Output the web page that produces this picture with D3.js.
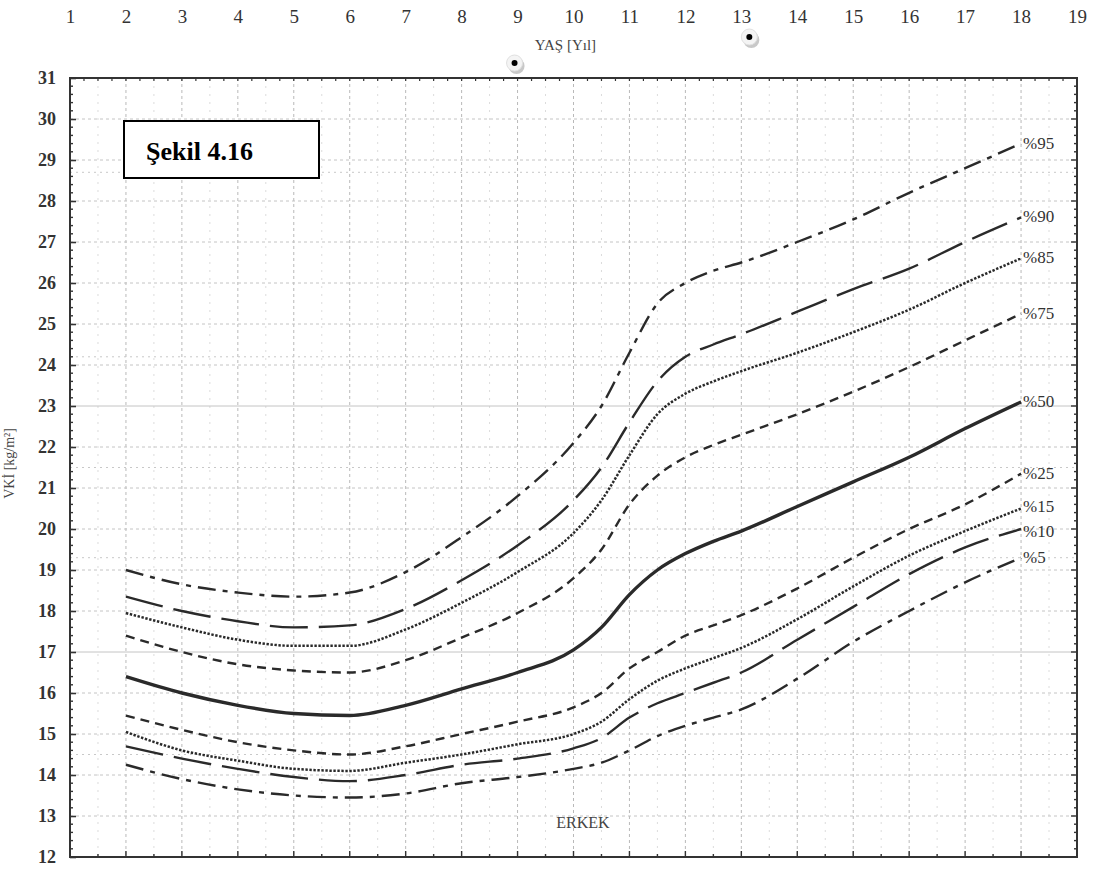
<!DOCTYPE html>
<html>
<head>
<meta charset="utf-8">
<script src="https://cdn.jsdelivr.net/npm/d3@7"></script>
<style>
  html, body { margin: 0; padding: 0; background: #fff; }
  svg { display: block; }
  text { font-family: "Liberation Serif", "DejaVu Serif", serif; }
</style>
</head>
<body>
<svg id="chart" width="1096" height="872"></svg>
<script>
// Ages (years) at which the percentile curves are tabulated
const ages = [2, 3, 4, 5, 6, 7, 8, 9, 10, 10.5, 11, 11.5, 12, 12.5, 13, 14, 15, 16, 17, 18];

// BMI percentile curves (kg/m²), boys
const p95 = [19.0, 18.65, 18.45, 18.35, 18.45, 18.95, 19.8, 20.8, 22.1, 23.0, 24.3, 25.5, 26.0, 26.3, 26.5, 27.0, 27.55, 28.2, 28.8, 29.4];
const p90 = [18.35, 18.0, 17.75, 17.6, 17.65, 18.05, 18.75, 19.6, 20.7, 21.5, 22.6, 23.6, 24.2, 24.5, 24.75, 25.3, 25.85, 26.35, 27.0, 27.6];
const p85 = [17.95, 17.6, 17.3, 17.15, 17.15, 17.55, 18.2, 18.95, 19.9, 20.7, 21.8, 22.8, 23.3, 23.6, 23.85, 24.3, 24.8, 25.35, 26.0, 26.6];
const p75 = [17.4, 17.0, 16.7, 16.55, 16.5, 16.8, 17.35, 17.95, 18.8, 19.5, 20.6, 21.3, 21.75, 22.05, 22.3, 22.8, 23.35, 23.95, 24.6, 25.25];
const p50 = [16.4, 16.0, 15.7, 15.5, 15.45, 15.7, 16.1, 16.5, 17.05, 17.6, 18.4, 19.0, 19.4, 19.7, 19.95, 20.55, 21.15, 21.75, 22.45, 23.1];
const p25 = [15.45, 15.1, 14.8, 14.6, 14.5, 14.7, 15.0, 15.3, 15.65, 16.0, 16.6, 17.0, 17.4, 17.65, 17.9, 18.55, 19.3, 20.0, 20.6, 21.35];
const p15 = [15.05, 14.6, 14.35, 14.15, 14.1, 14.3, 14.5, 14.75, 15.0, 15.3, 15.85, 16.3, 16.6, 16.85, 17.1, 17.8, 18.6, 19.35, 19.95, 20.5];
const p10 = [14.7, 14.4, 14.15, 13.95, 13.85, 14.0, 14.25, 14.4, 14.65, 14.9, 15.4, 15.75, 16.0, 16.25, 16.5, 17.3, 18.1, 18.9, 19.55, 20.0];
const p5  = [14.25, 13.9, 13.65, 13.5, 13.45, 13.55, 13.8, 13.95, 14.15, 14.3, 14.6, 14.95, 15.2, 15.4, 15.6, 16.35, 17.25, 18.0, 18.7, 19.3];

const seriesNames = ["%95", "%90", "%85", "%75", "%50", "%25", "%15", "%10", "%5"];
const seriesValues = [p95, p90, p85, p75, p50, p25, p15, p10, p5];

// Axis ticks
const xTicks = d3.range(1, 20);          // 1 … 19
const yTicks = d3.range(12, 32);         // 12 … 31
const refLines = [28.7, 24.2, 21.5, 19.3, 14.5];   // extra dotted reference lines

const svg = d3.select("#chart");
const plotLeft = 70, plotRight = 1077, plotTop = 78, plotBottom = 857;

const x = d3.scaleLinear().domain([1, 19]).range([plotLeft, plotRight]);
const y = d3.scaleLinear().domain([12, 31]).range([plotBottom, plotTop]);

// --- grid ---
const grid = svg.append("g");
grid.selectAll("line.vx").data(xTicks.slice(1, -1)).join("line")
  .attr("x1", d => x(d)).attr("x2", d => x(d))
  .attr("y1", plotTop).attr("y2", plotBottom)
  .attr("stroke", "#b9b9b9").attr("stroke-width", 1)
  .attr("stroke-dasharray", "3 3");
grid.selectAll("line.vh").data(d3.range(1.5, 19, 1)).join("line")
  .attr("x1", d => x(d)).attr("x2", d => x(d))
  .attr("y1", plotTop).attr("y2", plotBottom)
  .attr("stroke", "#dcdcdc").attr("stroke-width", 1)
  .attr("stroke-dasharray", "2 6");
grid.selectAll("line.hy").data(yTicks.slice(1, -1)).join("line")
  .attr("x1", plotLeft).attr("x2", plotRight)
  .attr("y1", d => y(d)).attr("y2", d => y(d))
  .attr("stroke", "#c4c4c4").attr("stroke-width", 1)
  .attr("stroke-dasharray", d => (d === 17 || d === 23) ? null : "3 3");
grid.selectAll("line.hr").data(refLines).join("line")
  .attr("x1", plotLeft).attr("x2", plotRight)
  .attr("y1", d => y(d)).attr("y2", d => y(d))
  .attr("stroke", "#c8c8c8").attr("stroke-width", 1)
  .attr("stroke-dasharray", "2 4");

// --- percentile curves ---
const styles = {
  "%95": { dash: "18 7 5 7", w: 2.4 },
  "%90": { dash: "38 11", w: 2.4 },
  "%85": { dash: "2.4 1.6", w: 2.5 },
  "%75": { dash: "9 6", w: 2.4 },
  "%50": { dash: null, w: 3.4 },
  "%25": { dash: "9 6", w: 2.4 },
  "%15": { dash: "2.4 1.6", w: 2.5 },
  "%10": { dash: "38 11", w: 2.4 },
  "%5":  { dash: "18 7 5 7", w: 2.4 }
};

const line = d3.line()
  .x(d => x(d[0]))
  .y(d => y(d[1]))
  .curve(d3.curveMonotoneX);

const curves = seriesNames.map((name, i) => ({
  name,
  points: ages.map((a, j) => [a, seriesValues[i][j]])
}));

svg.append("g").selectAll("path").data(curves).join("path")
  .attr("d", d => line(d.points))
  .attr("fill", "none")
  .attr("stroke", "#2a2a2a")
  .attr("stroke-width", d => styles[d.name].w)
  .attr("stroke-dasharray", d => styles[d.name].dash)
  .attr("stroke-linecap", "butt");

// percentile labels at the right end
const labelDy = { "%15": -2, "%10": 3 };
svg.append("g").selectAll("text").data(curves).join("text")
  .attr("x", x(18) + 2)
  .attr("y", d => y(d.points[d.points.length - 1][1]) + 5 + (labelDy[d.name] || 0))
  .attr("font-size", 17)
  .attr("fill", "#333")
  .text(d => d.name);

// --- frame and axes ---
svg.append("rect")
  .attr("x", plotLeft).attr("y", plotTop)
  .attr("width", plotRight - plotLeft).attr("height", plotBottom - plotTop)
  .attr("fill", "none").attr("stroke", "#333").attr("stroke-width", 2);

const yAxisL = d3.axisLeft(y).tickValues(yTicks).tickSize(-6).tickPadding(14).tickFormat(d3.format("d"));
const gL = svg.append("g").attr("transform", `translate(${plotLeft},0)`).call(yAxisL);
gL.select(".domain").remove();
gL.selectAll("text").attr("font-size", 18).attr("font-weight", "bold").attr("fill", "#333")
  .attr("font-family", "Liberation Serif, serif");
gL.selectAll("line").attr("stroke", "#333").attr("stroke-width", 1.6);

const minorY = d3.range(12, 31.01, 0.2).filter(v => Math.abs(v - Math.round(v)) > 0.01);
svg.append("g").selectAll("line").data(minorY).join("line")
  .attr("x1", plotLeft).attr("x2", plotLeft + 3)
  .attr("y1", d => y(d)).attr("y2", d => y(d))
  .attr("stroke", "#333").attr("stroke-width", 1.4);
svg.append("g").selectAll("line").data(d3.range(12, 31.01, 0.2)).join("line")
  .attr("x1", plotRight).attr("x2", d => Math.abs(d - Math.round(d)) < 0.01 ? plotRight - 6 : plotRight - 3)
  .attr("y1", d => y(d)).attr("y2", d => y(d))
  .attr("stroke", "#333").attr("stroke-width", 1.4);

// bottom and top ticks
svg.append("g").selectAll("line").data(d3.range(1, 19.01, 0.5)).join("line")
  .attr("x1", d => x(d)).attr("x2", d => x(d))
  .attr("y1", plotBottom).attr("y2", d => Number.isInteger(d) ? plotBottom - 6 : plotBottom - 3)
  .attr("stroke", "#333").attr("stroke-width", 1.4);
svg.append("g").selectAll("line").data(d3.range(1, 19.01, 0.25)).join("line")
  .attr("x1", d => x(d)).attr("x2", d => x(d))
  .attr("y1", plotTop).attr("y2", plotTop + 3)
  .attr("stroke", "#333").attr("stroke-width", 1.2);

// top age labels
const xAxisT = d3.axisTop(x).tickValues(xTicks).tickSize(0).tickPadding(0).tickFormat(d3.format("d"));
const gT = svg.append("g").attr("transform", "translate(0,23)").call(xAxisT);
gT.select(".domain").remove();
gT.selectAll("text").attr("font-size", 19).attr("fill", "#333")
  .attr("font-family", "Liberation Serif, serif").attr("dy", 0);

// axis titles
svg.append("text").attr("x", x(10) - 8).attr("y", 50)
  .attr("text-anchor", "middle").attr("font-size", 15).attr("fill", "#444")
  .text("YAŞ [Yıl]");
svg.append("text")
  .attr("transform", `translate(14,${y(21.6)}) rotate(-90)`)
  .attr("text-anchor", "middle").attr("font-size", 14).attr("fill", "#444")
  .text("VKİ [kg/m²]");

// figure tag
svg.append("rect").attr("x", 124).attr("y", 121).attr("width", 195).attr("height", 57)
  .attr("fill", "#fff").attr("stroke", "#000").attr("stroke-width", 2);
svg.append("text").attr("x", 146).attr("y", 160)
  .attr("font-size", 26).attr("font-weight", "bold").attr("fill", "#000")
  .text("Şekil 4.16");

// group label
svg.append("text").attr("x", 583).attr("y", 828)
  .attr("text-anchor", "middle").attr("font-size", 16).attr("fill", "#444")
  .text("ERKEK");

// small round markers near the age title
const markers = [[x(9) - 3, 63], [x(13) + 8, 37]];
const mk = svg.append("g").selectAll("g").data(markers).join("g")
  .attr("transform", d => `translate(${d[0]},${d[1]})`);
mk.append("circle").attr("cx", 2).attr("cy", 3).attr("r", 8).attr("fill", "#c8c8c8");
mk.append("circle").attr("r", 8).attr("fill", "#f4f4f4").attr("stroke", "#e0e0e0");
mk.append("circle").attr("r", 3).attr("fill", "#000");
</script>
</body>
</html>
